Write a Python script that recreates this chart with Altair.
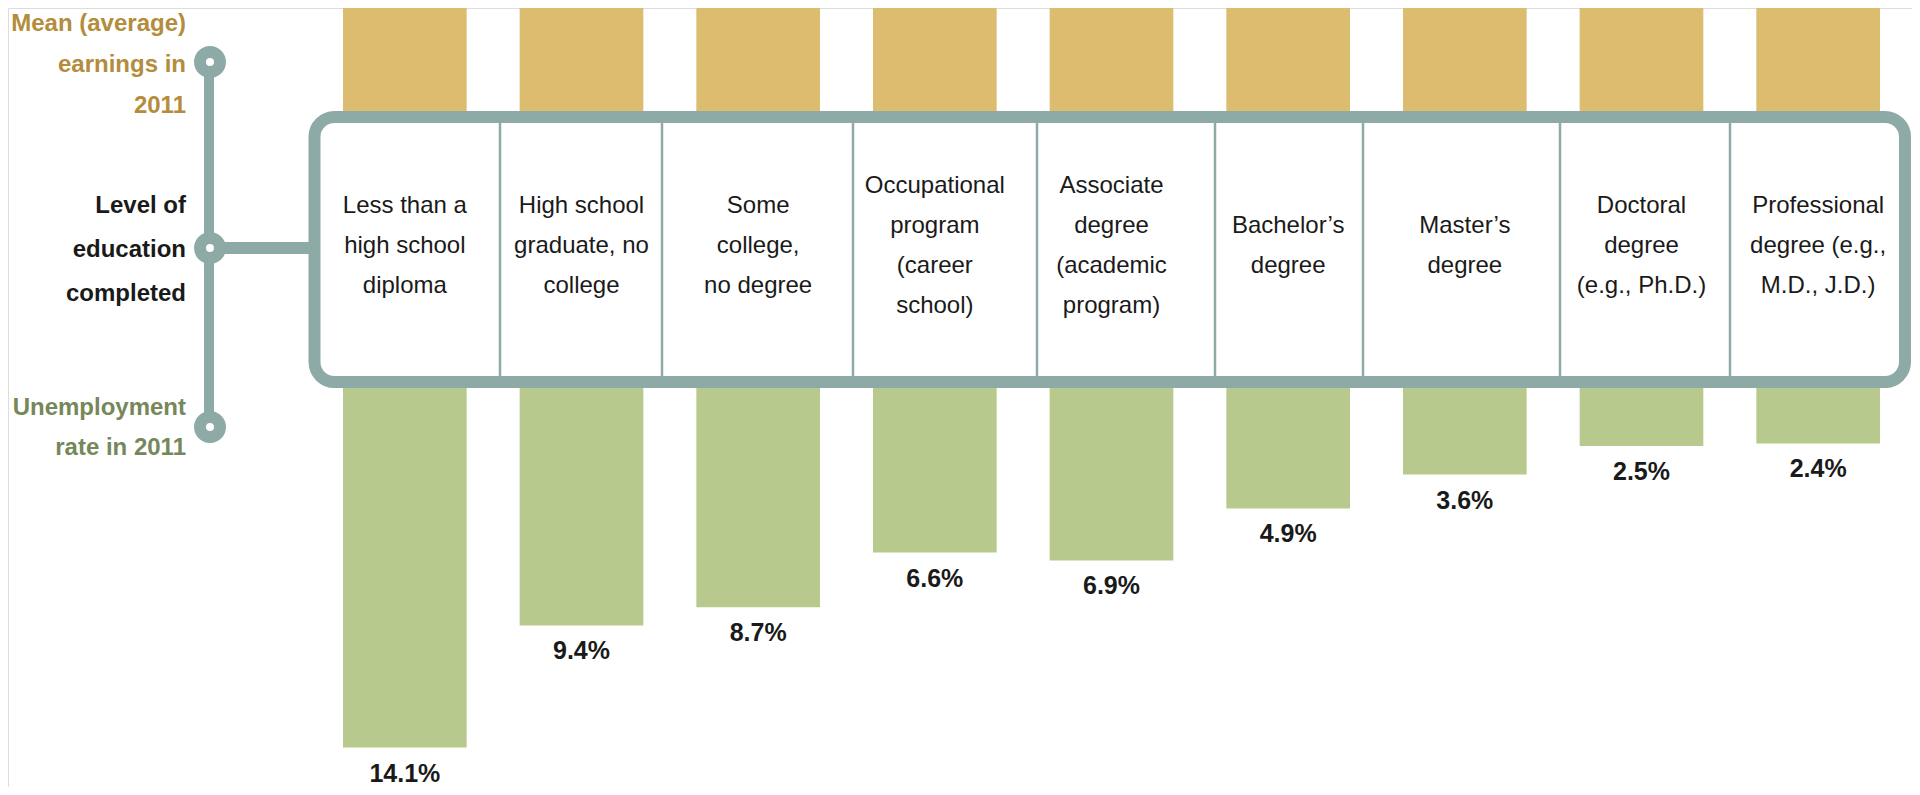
import altair as alt
import pandas as pd

# ---------------- data ----------------
categories = [
    "Less than a\nhigh school\ndiploma",
    "High school\ngraduate, no\ncollege",
    "Some\ncollege,\nno degree",
    "Occupational\nprogram\n(career\nschool)",
    "Associate\ndegree\n(academic\nprogram)",
    "Bachelor\u2019s\ndegree",
    "Master\u2019s\ndegree",
    "Doctoral\ndegree\n(e.g., Ph.D.)",
    "Professional\ndegree (e.g.,\nM.D., J.D.)",
]
unemployment = [14.1, 9.4, 8.7, 6.6, 6.9, 4.9, 3.6, 2.5, 2.4]
# earnings bars are cropped at the top of the picture (estimates)
earnings = [20241, 31003, 32295, 39962, 39506, 56665, 70856, 96313, 125019]

left_labels = [
    "Mean (average)\nearnings in\n2011",
    "Level of\neducation\ncompleted",
    "Unemployment\nrate in 2011",
]

# ---------------- layout / style ----------------
W, H = 1904, 779
TEAL = "#8EAAA7"
GOLD = "#DCBC6E"
GREEN = "#B7C98C"
GOLD_TXT = "#B38D3B"
GREEN_TXT = "#76875A"
INK = "#1a1a1a"
FONT = "Liberation Sans Narrow, Arial Narrow, Liberation Sans, Arial, sans-serif"

DIVIDER_PX = [492, 654, 845, 1029, 1207, 1355, 1552, 1722]
CIRCLE_PY = [54, 240, 419]
LABEL_CENTER_Y = 238
LABEL_LH = 40

df = pd.DataFrame({"cat": categories, "rate": unemployment, "earn": earnings})

xscale = alt.Scale(type="band", domain=categories, range=[335, 1872], paddingInner=0.3, paddingOuter=0)
X = alt.X("cat:N", scale=xscale, axis=None)
yr = alt.Scale(domain=[0, 15], range=[373, 763])

gold = alt.Chart(df).mark_bar(color=GOLD, clip=True).encode(
    x=X,
    y=alt.Y("earn:Q", scale=alt.Scale(domain=[0, 12000], range=[109, 0]), axis=None),
)

green = alt.Chart(df).mark_bar(color=GREEN).encode(
    x=X,
    y=alt.Y("rate:Q", scale=yr, axis=None),
)

box = alt.Chart(pd.DataFrame({"k": [0]})).mark_rect(
    fill="white", stroke=TEAL, strokeWidth=12, cornerRadius=20
).encode(x=alt.value(306.5), x2=alt.value(1897), y=alt.value(109), y2=alt.value(374))

div = alt.Chart(pd.DataFrame({"px": DIVIDER_PX})).mark_rule(color=TEAL, strokeWidth=2.5).encode(
    x=alt.X("px:Q", scale=None, axis=None), y=alt.value(115), y2=alt.value(368)
)

cat_text = alt.Chart(df).transform_calculate(
    ly=f"{LABEL_CENTER_Y} - (length(split(datum.cat, '\\n')) - 1) * {LABEL_LH / 2}"
).mark_text(
    font=FONT, fontSize=24, lineBreak="\n", lineHeight=LABEL_LH, align="center",
    baseline="middle", color=INK
).encode(x=X, y=alt.Y("ly:Q", scale=None, axis=None), text="cat:N")

pct = alt.Chart(df).transform_calculate(
    label="format(datum.rate, '.1f') + '%'"
).mark_text(
    font=FONT, fontSize=25, fontWeight="bold", baseline="middle", align="center",
    dy=26, color=INK
).encode(x=X, y=alt.Y("rate:Q", scale=yr, axis=None), text="label:N")

one = pd.DataFrame({"k": [0]})
vline = alt.Chart(one).mark_rule(color=TEAL, strokeWidth=10).encode(
    x=alt.value(201), y=alt.value(54), y2=alt.value(419)
)
hline = alt.Chart(one).mark_rule(color=TEAL, strokeWidth=12).encode(
    x=alt.value(201), x2=alt.value(307), y=alt.value(240)
)
circles = alt.Chart(pd.DataFrame({"py": CIRCLE_PY})).mark_point(
    shape="circle", filled=True, fill="white", stroke=TEAL, strokeWidth=12, size=400, opacity=1
).encode(x=alt.value(202), y=alt.Y("py:Q", scale=None, axis=None))

def left_text(label, color, ypos, lh):
    return alt.Chart(pd.DataFrame({"t": [label]})).mark_text(
        font=FONT, fontSize=24, fontWeight="bold", lineBreak="\n", lineHeight=lh,
        align="right", baseline="middle", color=color
    ).encode(text="t:N", x=alt.value(178), y=alt.value(ypos))

t1 = left_text(left_labels[0], GOLD_TXT, 16, 41)
t2 = left_text(left_labels[1], INK, 198, 44)
t3 = left_text(left_labels[2], GREEN_TXT, 400, 40)

chart = alt.layer(
    gold, green, box, div, cat_text, pct, vline, hline, circles, t1, t2, t3
).resolve_scale(y="independent", x="independent").properties(
    width=W, height=H, padding=0, autosize=alt.AutoSizeParams(type="none")
).configure_view(stroke=None).configure(font=FONT)

chart.save("out.html", embed_options={"renderer": "svg", "actions": False})
